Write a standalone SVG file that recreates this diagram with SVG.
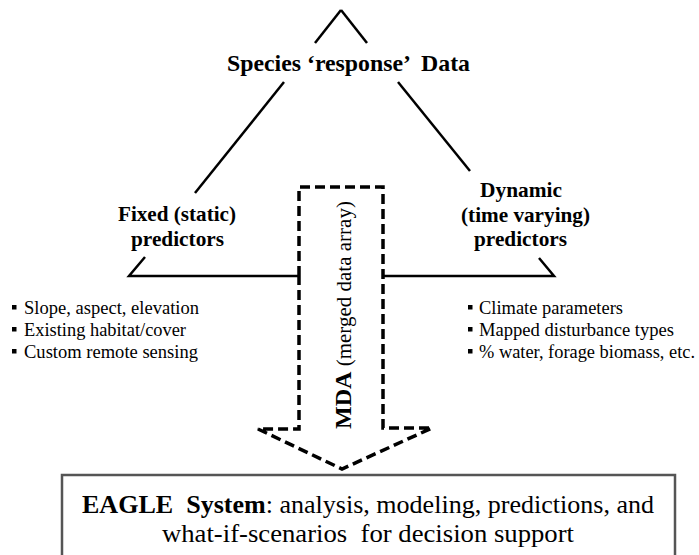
<svg xmlns="http://www.w3.org/2000/svg" width="699" height="555" viewBox="0 0 699 555">
  <style>
    text { font-family: 'Liberation Serif', 'Times New Roman', serif; fill: #000; }
    .head { font-weight: bold; font-size: 21px; text-anchor: middle; }
    .item { font-size: 18px; }
    .tri { stroke: #000; stroke-width: 2.5; fill: none; stroke-linecap: butt; }
    .dash { stroke: #000; stroke-width: 3.5; fill: none; stroke-dasharray: 10 5; stroke-linejoin: miter; }
    .bullet { fill: #000; }
  </style>

  <rect width="699" height="555" fill="#fff"/>

  <!-- triangle edges, broken where the labels sit -->
  <g id="connectors">
    <line class="tri" x1="315" y1="43" x2="341" y2="10"/>
    <line class="tri" x1="341" y1="10" x2="367" y2="43"/>
    <line class="tri" x1="284" y1="82" x2="195" y2="193"/>
    <line class="tri" x1="398" y1="82" x2="470" y2="171"/>
    <polyline class="tri" points="145,257 129,276 299,276"/>
    <polyline class="tri" points="383,276 554,276 539,258"/>
  </g>

  <g id="species">
    <text x="348.5" y="71" font-size="23.5" font-weight="bold" text-anchor="middle" textLength="243" lengthAdjust="spacingAndGlyphs" xml:space="preserve">Species ‘response’  Data</text>
  </g>

  <g id="fixed">
    <text class="head" x="177" y="221" textLength="118" lengthAdjust="spacingAndGlyphs">Fixed (static)</text>
    <text class="head" x="177.5" y="246" textLength="93" lengthAdjust="spacingAndGlyphs">predictors</text>
  </g>

  <g id="dynamic">
    <text class="head" x="521" y="197" textLength="82" lengthAdjust="spacingAndGlyphs">Dynamic</text>
    <text class="head" x="525.5" y="222" textLength="129" lengthAdjust="spacingAndGlyphs">(time varying)</text>
    <text class="head" x="520.5" y="246" textLength="93" lengthAdjust="spacingAndGlyphs">predictors</text>
  </g>

  <g id="fixed-list">
    <rect class="bullet" x="12" y="305" width="4.5" height="4.5"/>
    <rect class="bullet" x="12" y="327" width="4.5" height="4.5"/>
    <rect class="bullet" x="12" y="349" width="4.5" height="4.5"/>
    <text class="item" x="24" y="314" textLength="175" lengthAdjust="spacingAndGlyphs">Slope, aspect, elevation</text>
    <text class="item" x="24" y="336" textLength="162" lengthAdjust="spacingAndGlyphs">Existing habitat/cover</text>
    <text class="item" x="24" y="358" textLength="174" lengthAdjust="spacingAndGlyphs">Custom remote sensing</text>
  </g>

  <g id="dynamic-list">
    <rect class="bullet" x="468" y="305" width="4.5" height="4.5"/>
    <rect class="bullet" x="468" y="327" width="4.5" height="4.5"/>
    <rect class="bullet" x="468" y="349" width="4.5" height="4.5"/>
    <text class="item" x="479" y="314" textLength="144" lengthAdjust="spacingAndGlyphs">Climate parameters</text>
    <text class="item" x="479" y="336" textLength="195" lengthAdjust="spacingAndGlyphs">Mapped disturbance types</text>
    <text class="item" x="479" y="358" textLength="216" lengthAdjust="spacingAndGlyphs">% water, forage biomass, etc.</text>
  </g>

  <!-- merged data array arrow -->
  <g id="mda">
    <path class="dash" d="M299,276 L299,187 L383,187 L383,428 L432,428 L342,469 L258,429 L299,429 Z"/>
    <text transform="translate(351,315) rotate(-90)" text-anchor="middle" font-size="21" xml:space="preserve"><tspan font-weight="bold" font-size="24">MDA</tspan> (merged data array)</text>
  </g>

  <g id="eagle">
    <rect x="62" y="475" width="613" height="110" fill="#fff" stroke="#555" stroke-width="2.5"/>
    <text x="368" y="513" font-size="26" text-anchor="middle" textLength="572" lengthAdjust="spacingAndGlyphs" xml:space="preserve"><tspan font-weight="bold">EAGLE  System</tspan>: analysis, modeling, predictions, and</text>
    <text x="368" y="542" font-size="26" text-anchor="middle" textLength="412" lengthAdjust="spacingAndGlyphs" xml:space="preserve">what-if-scenarios  for decision support</text>
  </g>
</svg>
